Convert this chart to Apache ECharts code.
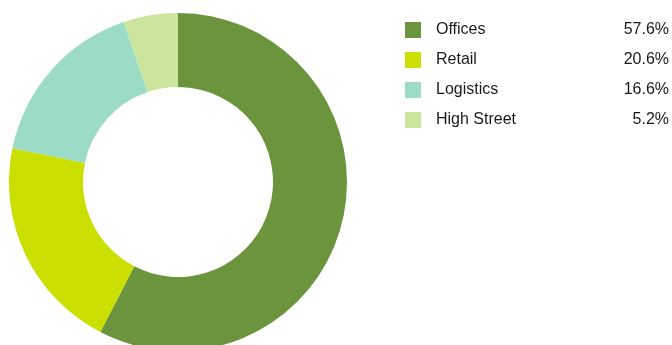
<!DOCTYPE html>
<html>
<head>
<meta charset="utf-8">
<script src="https://cdn.jsdelivr.net/npm/echarts@6/dist/echarts.min.js"></script>
<style>
  html, body { margin: 0; padding: 0; background: #fff; }
  #chart { width: 672px; height: 345px; }
</style>
</head>
<body>
<div id="chart"></div>
<script>
var sectors = ['Offices', 'Retail', 'Logistics', 'High Street'];
var shares = [57.6, 20.6, 16.6, 5.2];
var colors = ['#6b943c', '#cbdf00', '#9cdcc6', '#cbe59c'];

var chart = echarts.init(document.getElementById('chart'));

var pieData = sectors.map(function (name, i) {
  return { name: name, value: shares[i], itemStyle: { color: colors[i] } };
});

var option = {
  animation: false,
  legend: {
    orient: 'vertical',
    left: 405,
    top: 22,
    padding: 0,
    itemWidth: 16,
    itemHeight: 16,
    itemGap: 14,
    icon: 'rect',
    selectedMode: false,
    formatter: function (name) {
      var i = sectors.indexOf(name);
      return '{n|' + name + '}{v|' + shares[i].toFixed(1) + '%}';
    },
    textStyle: {
      rich: {
        n: {
          fontFamily: 'Liberation Sans, Arial, sans-serif',
          fontSize: 16,
          color: '#1a1a1a',
          width: 180,
          lineHeight: 16,
          padding: [0, 0, 0, 10]
        },
        v: {
          fontFamily: 'Liberation Sans, Arial, sans-serif',
          fontSize: 16,
          color: '#1a1a1a',
          width: 53,
          lineHeight: 16,
          align: 'right'
        }
      }
    }
  },
  series: [{
    type: 'pie',
    center: [178, 182],
    radius: [95, 169],
    startAngle: 90,
    clockwise: true,
    label: { show: false },
    labelLine: { show: false },
    emphasis: { disabled: true },
    data: pieData
  }]
};

chart.setOption(option);
</script>
</body>
</html>
